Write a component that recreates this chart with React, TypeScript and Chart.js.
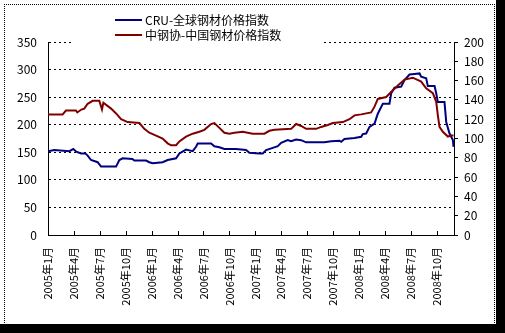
import React, { useEffect, useRef } from "react";
import { Chart, registerables } from "chart.js";

Chart.register(...registerables);

// ---- data ----
const seriesNames = ["CRU-全球钢材价格指数", "中钢协-中国钢材价格指数"];
const seriesColors = ["#000080", "#800000"];

// x tick labels every 3 months (month index 0 = 2005年1月)
const xTickLabels = [
  "2005年1月", "2005年4月", "2005年7月", "2005年10月",
  "2006年1月", "2006年4月", "2006年7月", "2006年10月",
  "2007年1月", "2007年4月", "2007年7月", "2007年10月",
  "2008年1月", "2008年4月", "2008年7月", "2008年10月",
];

// CRU global steel price index (left axis), position in months since Jan 2005
const cruMonths = [
  0, 0.73, 2.47, 2.7, 2.93, 3.28, 3.82, 4.32, 4.59, 4.98,
  5.75, 6.14, 7.88, 8.26, 8.64, 9.76, 10.0, 11.35, 11.73, 12.12,
  13.27, 13.85, 14.83, 15.21, 15.98, 16.75, 17.14, 17.33, 18.88, 19.26,
  19.84, 20.42, 21.77, 22.93, 23.32, 24.47, 24.86, 25.25, 26.02, 26.6,
  26.99, 27.75, 28.14, 28.72, 29.3, 29.88, 32.0, 32.78, 33.74, 33.94,
  34.32, 35.48, 36.26, 36.44, 36.83, 37.22, 37.8, 38.18, 38.76, 39.53,
  39.73, 40.11, 40.89, 41.27, 41.85, 42.43, 43.01, 43.2, 43.78, 43.97,
  44.75, 44.94, 45.13, 45.9, 46.1, 46.48, 46.87, 46.95,
];
const cruValues = [
  152, 154, 152, 154, 156, 151, 148, 148, 144, 136,
  132, 124, 124, 136, 139, 138, 135, 135, 132, 130,
  132, 136, 139, 148, 155, 152, 160, 166, 166, 161,
  159, 156, 156, 154, 149, 148, 148, 154, 158, 161,
  167, 172, 170, 173, 172, 168, 168, 170, 171, 169,
  174, 176, 178, 183, 184, 196, 202, 220, 238, 238,
  257, 267, 269, 281, 291, 292, 293, 287, 284, 270,
  270, 257, 241, 241, 205, 184, 172, 160,
];

// China Iron & Steel Association price index (right axis)
const cspiMonths = [
  0, 1.69, 2.08, 3.24, 3.39, 3.86, 4.2, 4.59, 5.17, 5.94,
  6.25, 6.41, 7.3, 7.88, 8.46, 9.22, 10.58, 11.15, 11.73, 12.51,
  13.27, 13.85, 14.25, 14.83, 15.21, 15.98, 16.75, 17.52, 18.1, 18.88,
  19.26, 19.84, 20.42, 21.0, 21.58, 22.54, 23.7, 25.05, 25.63, 26.21,
  28.15, 28.73, 29.3, 29.88, 31.04, 31.62, 32.39, 32.97, 34.13, 34.9,
  35.48, 36.26, 37.41, 37.8, 38.18, 39.15, 39.92, 40.5, 41.27, 42.23,
  43.2, 43.78, 44.55, 44.94, 45.13, 45.32, 45.71, 46.29, 46.68, 46.95,
];
const cspiValues = [
  125, 125, 129, 129, 127, 130, 131, 136, 139, 139,
  130, 137, 131, 126, 120, 117, 116, 110, 106, 103,
  100, 95, 93, 93, 97, 102, 105, 107, 109, 115,
  116, 111, 106, 105, 106, 107, 105, 105, 108, 109,
  110, 115, 113, 110, 110, 112, 114, 116, 117, 120,
  124, 125, 127, 133, 141, 143, 150, 155, 161, 163,
  159, 152, 147, 138, 124, 112, 107, 102, 103, 103,
];

const FONT = '"Noto Sans CJK SC", "Noto Sans", sans-serif';

const innerXTicks = {
  id: "innerXTicks",
  afterDraw(chart: any) {
    const s = chart.scales.x;
    const { ctx, chartArea } = chart;
    ctx.save();
    ctx.strokeStyle = "#000";
    ctx.lineWidth = 1;
    ctx.beginPath();
    s.ticks.forEach((t: any) => {
      if (t.value <= s.min) return;
      const px = Math.round(s.getPixelForValue(t.value)) + 0.5;
      ctx.moveTo(px, chartArea.bottom);
      ctx.lineTo(px, chartArea.bottom - 4);
    });
    ctx.stroke();
    ctx.restore();
  },
};

export default function App() {
  const ref = useRef<HTMLCanvasElement | null>(null);

  useEffect(() => {
    if (!ref.current) return;
    const cruPoints = cruMonths.map((m, i) => ({ x: m, y: cruValues[i] }));
    const cspiPoints = cspiMonths.map((m, i) => ({ x: m, y: cspiValues[i] }));
    const chart = new Chart(ref.current, {
      type: "line",
      data: {
        datasets: [
          {
            label: seriesNames[0],
            data: cruPoints,
            borderColor: seriesColors[0],
            backgroundColor: seriesColors[0],
            borderWidth: 2,
            pointRadius: 0,
            tension: 0,
            yAxisID: "y",
            order: 2,
          },
          {
            label: seriesNames[1],
            data: cspiPoints,
            borderColor: seriesColors[1],
            backgroundColor: seriesColors[1],
            borderWidth: 2,
            pointRadius: 0,
            tension: 0,
            yAxisID: "y1",
            order: 1,
          },
        ],
      },
      options: {
        responsive: false,
        animation: false,
        events: [],
        layout: { padding: { top: 42, left: 0, right: 0, bottom: 0 } },
        plugins: { legend: { display: false }, tooltip: { enabled: false } },
        scales: {
          x: {
            type: "linear",
            min: 0,
            max: 47,
            afterFit: (s: any) => { s.height = 98; },
            grid: { drawOnChartArea: false, drawTicks: false },
            border: { color: "#000", width: 1 },
            ticks: {
              stepSize: 3,
              includeBounds: false,
              autoSkip: false,
              minRotation: 90,
              maxRotation: 90,
              padding: 12,
              color: "#000",
              font: { family: FONT, size: 11 },
              callback: (v: any) => xTickLabels[Math.round(Number(v) / 3)] ?? "",
            },
          },
          y: {
            position: "left",
            min: 0,
            max: 350,
            afterFit: (s: any) => { s.width = 48; },
            grid: { color: "#000", drawTicks: false, lineWidth: 1 },
            border: { color: "#000", width: 1, dash: [2, 3] },
            ticks: {
              stepSize: 50,
              padding: 11,
              color: "#000",
              font: { family: FONT, size: 12 },
            },
          },
          y1: {
            position: "right",
            min: 0,
            max: 200,
            afterFit: (s: any) => { s.width = 51; },
            grid: { drawOnChartArea: false, drawTicks: true, tickLength: 4, color: "#000" },
            border: { color: "#000", width: 1 },
            ticks: {
              stepSize: 20,
              padding: 6,
              color: "#000",
              font: { family: FONT, size: 12 },
            },
          },
        },
      },
      plugins: [innerXTicks],
    } as any);
    return () => chart.destroy();
  }, []);

  return (
    <div style={{ position: "absolute", left: 0, top: 0, width: 505, height: 333, background: "#000" }}>
      <div style={{ position: "absolute", left: 0, top: 0, width: 496, height: 324, background: "#fff" }} />
      <div
        style={{
          position: "absolute", left: 4, top: 4, width: 491, height: 321,
          border: "1px dotted #000", boxSizing: "border-box",
        }}
      />
      <canvas
        ref={ref}
        width={505}
        height={333}
        style={{ position: "absolute", left: 0, top: 0, width: 505, height: 333 }}
      />
      <div
        style={{
          position: "absolute", left: 73, top: 12, width: 251, height: 31,
          background: "#fff", fontFamily: FONT, fontSize: 12, color: "#000",
        }}
      >
        {seriesNames.map((name, i) => (
          <div
            key={name}
            style={{
              position: "absolute", left: 42, top: i * 15, height: 15,
              display: "flex", alignItems: "center", whiteSpace: "nowrap", lineHeight: "15px",
            }}
          >
            <span style={{ display: "inline-block", width: 27, height: 2, background: seriesColors[i], marginRight: 3 }} />
            <span>{name}</span>
          </div>
        ))}
      </div>
    </div>
  );
}
